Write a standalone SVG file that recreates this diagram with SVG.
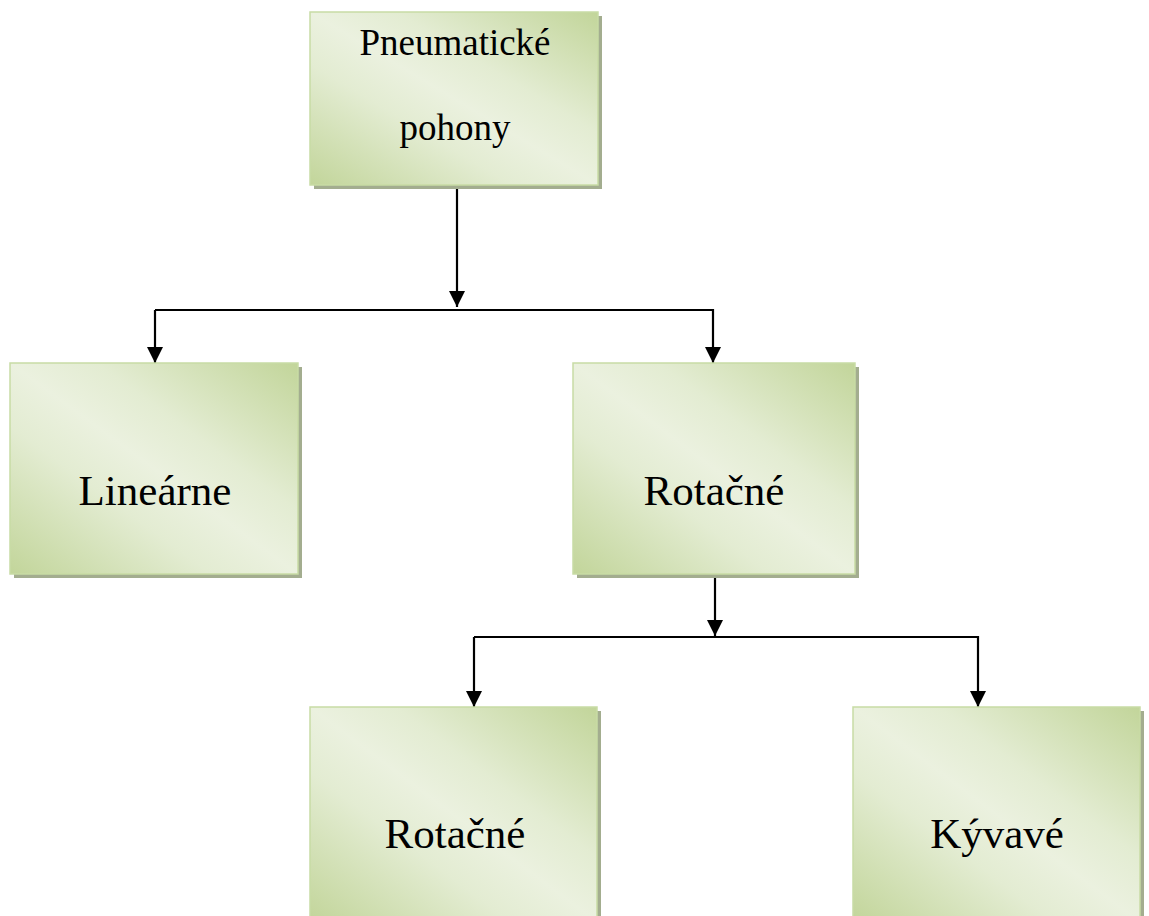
<svg xmlns="http://www.w3.org/2000/svg" width="1149" height="916" viewBox="0 0 1149 916">
<style>
.box{fill:url(#g);stroke:#c8dba5;stroke-width:1.5}
.sh{fill:#a3ad8f}
.t{font-family:"Liberation Serif","Times New Roman",serif;fill:#000;text-anchor:middle}
.big{font-size:43px}
.small{font-size:37px}
.c{fill:none;stroke:#000;stroke-width:2.2}
</style>
<defs>
<linearGradient id="g" x1="1" y1="0" x2="0" y2="1">
<stop offset="0" stop-color="#c2d59a"/>
<stop offset="0.35" stop-color="#e3ecd2"/>
<stop offset="0.5" stop-color="#ebf1df"/>
<stop offset="0.65" stop-color="#e3ecd2"/>
<stop offset="1" stop-color="#c2d59a"/>
</linearGradient>
<marker id="a" markerWidth="17" markerHeight="16" refX="16" refY="8" orient="auto" markerUnits="userSpaceOnUse">
<path d="M0,0 L16,8 L0,16 Z" fill="#000"/>
</marker>
</defs>
<g id="connectors">
<path class="c" d="M457,185 V307" marker-end="url(#a)"/>
<path class="c" d="M155,310 H713 V363" marker-end="url(#a)"/>
<path class="c" d="M155,310 V363" marker-end="url(#a)"/>
<path class="c" d="M715,575 V636" marker-end="url(#a)"/>
<path class="c" d="M474,637 H978 V707" marker-end="url(#a)"/>
<path class="c" d="M474,637 V707" marker-end="url(#a)"/>
</g>
<g id="n1">
<rect class="sh" x="314" y="16" width="288" height="173"/>
<rect class="box" x="310" y="12" width="288" height="173"/>
<text class="t small" x="455" y="55">Pneumatické</text>
<text class="t small" x="455" y="140">pohony</text>
</g>
<g id="n2">
<rect class="sh" x="14" y="367" width="288" height="211"/>
<rect class="box" x="10" y="363" width="288" height="211"/>
<text class="t big" x="155" y="505">Lineárne</text>
</g>
<g id="n3">
<rect class="sh" x="577" y="367" width="282" height="211"/>
<rect class="box" x="573" y="363" width="282" height="211"/>
<text class="t big" x="714" y="505">Rotačné</text>
</g>
<g id="n4">
<rect class="sh" x="314" y="711" width="287" height="215"/>
<rect class="box" x="310" y="707" width="287" height="215"/>
<text class="t big" x="455" y="848">Rotačné</text>
</g>
<g id="n5">
<rect class="sh" x="857" y="711" width="287" height="215"/>
<rect class="box" x="853" y="707" width="287" height="215"/>
<text class="t big" x="997" y="848">Kývavé</text>
</g>
</svg>
